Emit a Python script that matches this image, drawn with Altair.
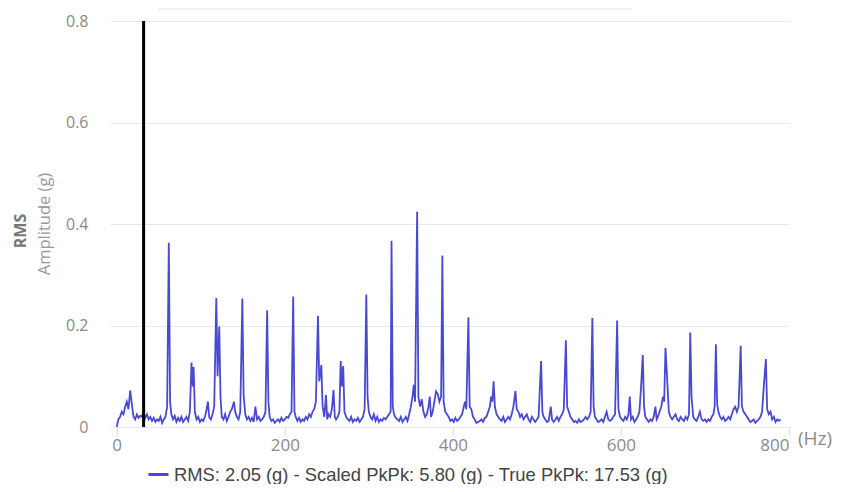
import altair as alt
import pandas as pd

# Spectrum trace (Hz, g RMS)
freqs = [
    0, 2, 4, 6, 8, 10, 12, 14, 16, 18, 20, 22, 24, 26, 28, 30, 32, 34, 36, 38,
    40, 42, 44, 46, 48, 50, 52, 54, 56, 58, 60, 62, 63.5, 65, 67, 69, 71, 73, 75, 77,
    79, 81, 83, 85, 87, 89, 90.5, 91.5, 93, 95, 97, 99, 101, 103, 105, 107, 108.5, 110, 112, 114,
    116, 118.5, 120, 122, 123.5, 125, 127, 129, 131, 133, 135, 137, 139.5, 141, 143, 145, 147, 149.5, 151, 153,
    155, 157, 159, 161, 163, 165, 167, 169, 171, 173, 175, 177, 179, 180.5, 182, 184, 186, 188, 190, 192,
    194, 196, 198, 200, 202, 204, 206, 208, 210, 211.5, 213, 215, 217, 219, 221, 223, 225, 227, 229, 231,
    233, 235, 237, 239.5, 241, 243.5, 245, 247, 249, 250.5, 252, 254, 256, 258, 259.5, 261, 263, 265, 266.5, 268,
    269.5, 271, 273, 275, 277, 279, 281, 283, 285, 287, 289, 291, 293, 295, 297, 298.5, 300, 302, 304, 306,
    308, 310, 312, 314, 316, 318, 320, 322, 324, 326, 327, 328.5, 330, 332, 334, 336, 338, 340, 342, 344,
    346, 348, 350, 352, 353.5, 355, 357.5, 359, 361, 363, 365, 367, 369, 371, 372.5, 374, 376, 378, 380, 382,
    384, 386, 387.5, 389, 391, 393, 395, 397, 399, 401, 403, 405, 407, 409, 411, 413, 414.5, 416, 418.5, 420,
    422, 424, 426, 428, 430, 432, 434, 436, 438, 440, 442, 444, 445.5, 447, 448.5, 450, 452, 454, 456, 458,
    460, 462, 464, 466, 468, 470, 472, 474.5, 476, 478, 480, 482, 484, 486, 488, 490, 492, 494, 496, 498,
    500, 502, 505, 506.5, 508, 510, 512, 514, 516.5, 518, 520, 522, 524, 526, 528, 530, 532, 534.5, 536, 538,
    540, 542, 544, 546, 548, 550, 552, 554, 556, 558, 560, 562, 564, 566, 567.5, 569, 571, 573, 575, 577,
    579, 581, 583, 585, 587, 589, 591, 593, 595.5, 597, 599, 601, 603, 605, 607, 609, 610.5, 612, 614, 616,
    618, 620, 622, 624, 626, 627.5, 629, 631, 633, 635, 637, 639, 641, 642.5, 644, 646, 648, 650, 651.5, 653,
    655, 657, 659, 661, 663, 665, 667, 669, 671, 673, 675, 677, 679, 681, 682.5, 684, 686, 688, 690, 692,
    694, 696, 698, 700, 702, 704, 706, 708, 710, 711.5, 713, 714.5, 716, 718, 720, 722, 724, 726, 728, 730,
    732, 734, 736, 738, 740, 742.5, 744, 746, 748, 750, 752, 754, 756, 758, 760, 762, 764, 766, 768, 770,
    772.5, 774, 776, 778, 780, 782, 784, 786, 788, 790,
]
amps = [
    0.000, 0.015, 0.020, 0.030, 0.025, 0.040, 0.050, 0.035, 0.072, 0.045, 0.020, 0.015, 0.025, 0.018, 0.022, 0.020, 0.030, 0.018, 0.025, 0.015,
    0.020, 0.012, 0.018, 0.010, 0.015, 0.012, 0.020, 0.008, 0.015, 0.020, 0.040, 0.363, 0.050, 0.025, 0.015, 0.022, 0.010, 0.018, 0.012, 0.020,
    0.010, 0.015, 0.020, 0.012, 0.030, 0.127, 0.080, 0.118, 0.030, 0.015, 0.020, 0.010, 0.015, 0.012, 0.020, 0.035, 0.050, 0.020, 0.015, 0.025,
    0.040, 0.254, 0.100, 0.198, 0.060, 0.020, 0.015, 0.025, 0.012, 0.020, 0.030, 0.035, 0.050, 0.030, 0.020, 0.015, 0.030, 0.253, 0.063, 0.025,
    0.015, 0.020, 0.012, 0.018, 0.010, 0.040, 0.015, 0.020, 0.012, 0.015, 0.020, 0.030, 0.230, 0.050, 0.020, 0.012, 0.015, 0.008, 0.012, 0.015,
    0.010, 0.018, 0.012, 0.015, 0.020, 0.018, 0.025, 0.030, 0.257, 0.030, 0.020, 0.012, 0.018, 0.010, 0.015, 0.012, 0.020, 0.015, 0.025, 0.020,
    0.030, 0.035, 0.050, 0.219, 0.090, 0.122, 0.040, 0.020, 0.063, 0.015, 0.025, 0.020, 0.035, 0.073, 0.020, 0.015, 0.020, 0.030, 0.130, 0.080,
    0.120, 0.030, 0.020, 0.015, 0.012, 0.020, 0.010, 0.015, 0.012, 0.018, 0.010, 0.015, 0.020, 0.035, 0.261, 0.060, 0.030, 0.020, 0.015, 0.025,
    0.012, 0.020, 0.010, 0.015, 0.012, 0.018, 0.015, 0.020, 0.025, 0.030, 0.367, 0.040, 0.025, 0.018, 0.015, 0.012, 0.020, 0.010, 0.015, 0.020,
    0.012, 0.025, 0.040, 0.060, 0.083, 0.050, 0.424, 0.060, 0.040, 0.055, 0.030, 0.020, 0.025, 0.040, 0.060, 0.020, 0.030, 0.050, 0.070, 0.065,
    0.050, 0.060, 0.338, 0.050, 0.030, 0.025, 0.020, 0.012, 0.015, 0.010, 0.018, 0.012, 0.015, 0.020, 0.025, 0.040, 0.050, 0.035, 0.216, 0.040,
    0.035, 0.020, 0.015, 0.008, 0.010, 0.012, 0.015, 0.010, 0.018, 0.020, 0.030, 0.040, 0.060, 0.050, 0.090, 0.040, 0.025, 0.020, 0.015, 0.012,
    0.020, 0.010, 0.015, 0.020, 0.015, 0.025, 0.040, 0.071, 0.035, 0.030, 0.020, 0.025, 0.015, 0.020, 0.025, 0.015, 0.010, 0.020, 0.015, 0.010,
    0.015, 0.020, 0.130, 0.030, 0.020, 0.015, 0.010, 0.012, 0.040, 0.015, 0.010, 0.015, 0.020, 0.012, 0.020, 0.025, 0.035, 0.171, 0.040, 0.030,
    0.020, 0.015, 0.010, 0.012, 0.008, 0.015, 0.010, 0.012, 0.015, 0.020, 0.015, 0.020, 0.030, 0.215, 0.040, 0.020, 0.015, 0.010, 0.012, 0.015,
    0.010, 0.020, 0.030, 0.015, 0.012, 0.015, 0.020, 0.025, 0.210, 0.035, 0.020, 0.015, 0.012, 0.020, 0.015, 0.025, 0.060, 0.015, 0.020, 0.010,
    0.015, 0.020, 0.030, 0.080, 0.142, 0.040, 0.020, 0.015, 0.010, 0.015, 0.012, 0.020, 0.040, 0.015, 0.020, 0.030, 0.040, 0.060, 0.050, 0.156,
    0.095, 0.030, 0.020, 0.015, 0.020, 0.025, 0.015, 0.012, 0.020, 0.015, 0.012, 0.020, 0.015, 0.025, 0.186, 0.060, 0.020, 0.015, 0.012, 0.020,
    0.030, 0.015, 0.012, 0.015, 0.010, 0.015, 0.012, 0.020, 0.025, 0.040, 0.163, 0.045, 0.030, 0.020, 0.015, 0.020, 0.012, 0.015, 0.020, 0.015,
    0.025, 0.035, 0.040, 0.030, 0.040, 0.160, 0.040, 0.030, 0.025, 0.020, 0.015, 0.010, 0.012, 0.015, 0.008, 0.012, 0.015, 0.020, 0.030, 0.080,
    0.134, 0.035, 0.025, 0.030, 0.015, 0.020, 0.010, 0.015, 0.012, 0.015,
]
series_label = "RMS: 2.05 (g) - Scaled PkPk: 5.80 (g) - True PkPk: 17.53 (g)"

cursor_freq = [32]
cursor_top = [0.8]

x_ticks = [0, 200, 400, 600, 800]
y_ticks = [0, 0.2, 0.4, 0.6, 0.8]

spec = pd.DataFrame({"freq": freqs, "amp": amps, "series": series_label})
cursor = pd.DataFrame({"freq": cursor_freq, "top": cursor_top, "zero": [0]})

x_scale = alt.Scale(domain=[-8, 800], nice=False, zero=False)
y_scale = alt.Scale(domain=[0, 0.8], nice=False)

line = alt.Chart(spec).mark_line(strokeWidth=1.8, opacity=0.9, clip=True).encode(
    x=alt.X("freq:Q", scale=x_scale,
            axis=alt.Axis(values=x_ticks, title=None, grid=False, domain=False,
                          ticks=True, tickSize=8, tickColor="#dddddd",
                          labelFont="Open Sans", labelFontSize=17, labelColor="#8a8a8a",
                          labelPadding=2)),
    y=alt.Y("amp:Q", scale=y_scale,
            axis=alt.Axis(values=y_ticks, title=None, grid=True, gridColor="#e8e8e8",
                          domain=False, ticks=False, format=".1~f",
                          labelFont="Open Sans", labelFontSize=16, labelColor="#8a8a8a",
                          labelPadding=22)),
    color=alt.Color("series:N", scale=alt.Scale(range=["#3535cc"]),
                    legend=alt.Legend(orient="none", legendX=37, legendY=442, title=None,
                                      symbolType="stroke", symbolStrokeWidth=3, symbolSize=400,
                                      labelFont="Liberation Sans", labelFontSize=18.4,
                                      labelColor="#444444", labelLimit=0)),
)

rule = alt.Chart(cursor).mark_rule(color="black", strokeWidth=3).encode(
    x=alt.X("freq:Q", scale=x_scale),
    y=alt.Y("zero:Q", scale=y_scale),
    y2="top:Q",
)

# faint shadow of a floating panel cut by the top edge
shadow = alt.Chart(cursor).mark_rect(color="#bbbbbb", opacity=0.2, cornerRadius=2).encode(
    x=alt.value(48), x2=alt.value(522), y=alt.value(-13), y2=alt.value(-11))

rms = alt.Chart(cursor).mark_text(text="RMS", angle=270, font="Open Sans", fontSize=16,
                                   fontWeight="bold", color="#777777").encode(
    x=alt.value(-89), y=alt.value(210))
ampl = alt.Chart(cursor).mark_text(text="Amplitude (g)", angle=270, font="Open Sans",
                                    fontSize=16.5, color="#999999").encode(
    x=alt.value(-65), y=alt.value(203))
hz = alt.Chart(cursor).mark_text(text="(Hz)", font="Open Sans", fontSize=19,
                                  color="#8a8a8a", align="left").encode(
    x=alt.value(688), y=alt.value(418))

chart = alt.layer(shadow, line, rule, rms, ampl, hz).properties(
    width=679, height=406,
    background="white",
    autosize=alt.AutoSizeParams(type="none"),
    padding={"left": 102, "top": 13, "right": 50, "bottom": 57},
).configure_view(stroke=None)

chart.save("out.html", embed_options={"renderer": "svg", "actions": False})
